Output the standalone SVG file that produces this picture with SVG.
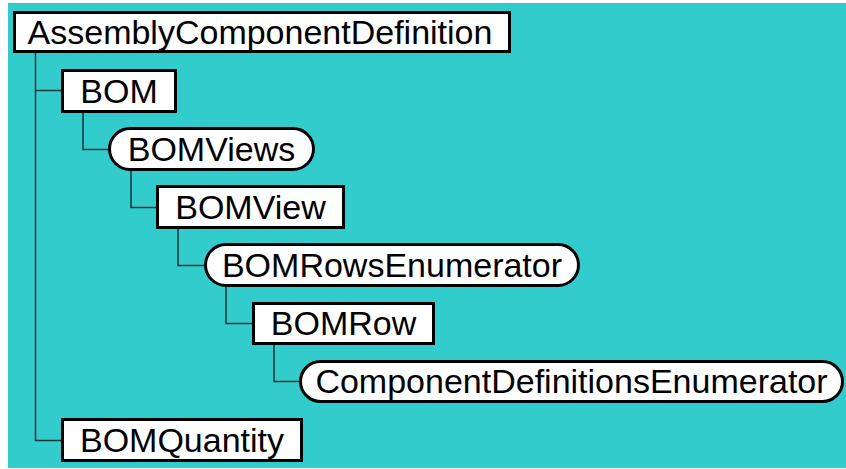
<svg xmlns="http://www.w3.org/2000/svg" width="846" height="469" viewBox="0 0 846 469">
<style>
.box{fill:#fff;stroke:#000;stroke-width:3}
.lbl{font-family:"Liberation Sans",Arial,sans-serif;font-size:34px;fill:#000;text-anchor:middle}
.conn{fill:none;stroke:#0d3535;stroke-width:1.5}
</style>
<rect x="0" y="0" width="846" height="469" fill="#fff"/>
<rect x="8" y="3" width="838" height="465" fill="#33cccc"/>
<g id="connectors">
<path class="conn" d="M35.5 53 V440.5 H61 M35.5 90.5 H61"/>
<path class="conn" d="M83 113 V149.5 H108"/>
<path class="conn" d="M131 171 V207.5 H156"/>
<path class="conn" d="M178 229 V265.5 H204"/>
<path class="conn" d="M226 287 V323.5 H252"/>
<path class="conn" d="M274 345 V381.5 H299"/>
</g>
<g id="AssemblyComponentDefinition">
<rect class="box" x="14.5" y="12.5" width="495" height="39"/>
<text class="lbl" x="260" y="44">AssemblyComponentDefinition</text>
</g>
<g id="BOM">
<rect class="box" x="62.5" y="70.5" width="113" height="41"/>
<text class="lbl" x="119" y="102.5">BOM</text>
</g>
<g id="BOMViews">
<rect class="box" x="109.5" y="128.5" width="204" height="41" rx="20.5"/>
<text class="lbl" x="211.5" y="160.5">BOMViews</text>
</g>
<g id="BOMView">
<rect class="box" x="157.5" y="186.5" width="186" height="41"/>
<text class="lbl" x="250.5" y="218.5">BOMView</text>
</g>
<g id="BOMRowsEnumerator">
<rect class="box" x="205.5" y="244.5" width="373" height="41" rx="20.5"/>
<text class="lbl" x="392" y="276.5">BOMRowsEnumerator</text>
</g>
<g id="BOMRow">
<rect class="box" x="253.5" y="303.5" width="180" height="40"/>
<text class="lbl" x="343.5" y="335">BOMRow</text>
</g>
<g id="ComponentDefinitionsEnumerator">
<rect class="box" x="300.5" y="361.5" width="542" height="40" rx="20"/>
<text class="lbl" x="571.5" y="393">ComponentDefinitionsEnumerator</text>
</g>
<g id="BOMQuantity">
<rect class="box" x="62.5" y="419.5" width="239" height="41"/>
<text class="lbl" x="182" y="451.5">BOMQuantity</text>
</g>
</svg>
